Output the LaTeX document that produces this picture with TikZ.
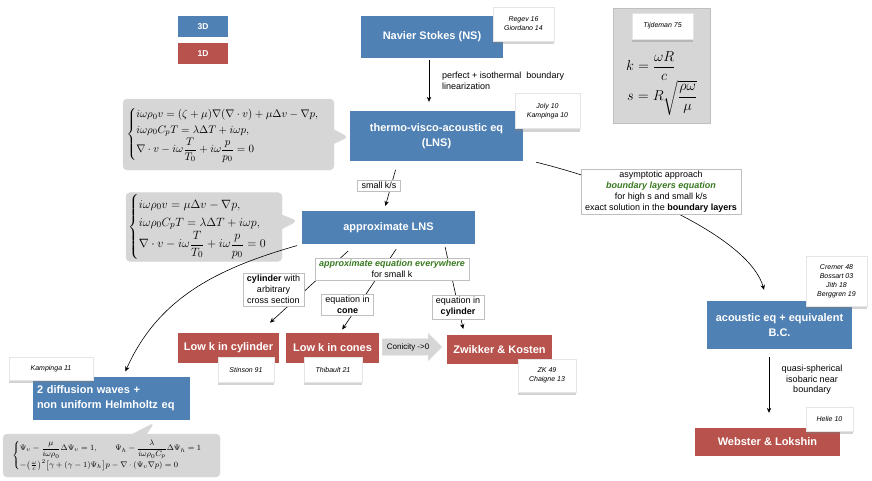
\documentclass[tikz,border=0pt]{standalone}
\usepackage{amsmath}
\usepackage{fontspec}
\setmainfont{Liberation Sans}
\usetikzlibrary{arrows.meta,shapes.callouts,shapes.arrows,shadows}

\definecolor{blue3d}{RGB}{79,129,180}
\definecolor{red1d}{RGB}{184,82,76}
\definecolor{eqgray}{RGB}{214,214,214}
\definecolor{hlgreen}{RGB}{56,122,32}

\tikzset{
  box3d/.style={fill=blue3d, text=white, align=center, inner sep=0pt, font=\fontsize{11}{15}\selectfont\bfseries},
  box1d/.style={box3d, fill=red1d},
  note/.style={fill=white, draw=black!10, align=center, inner sep=0pt, font=\fontsize{7}{9}\selectfont\itshape,
    drop shadow={shadow xshift=0pt, shadow yshift=-3pt, opacity=0.35}},
  lbl/.style={fill=white, draw=black!25, align=center, inner xsep=4pt, inner ysep=2pt, font=\fontsize{9}{11}\selectfont},
  eqbox/.style={rectangle callout, fill=eqgray, draw=black!15, rounded corners=4pt, callout pointer width=14pt,
    inner sep=2pt, font=\fontsize{11}{13}\selectfont},
  arr/.style={-{Stealth[length=5pt,width=4.5pt]}, line width=0.6pt}
}
\newcommand{\hlg}[1]{\textcolor{hlgreen}{\bfseries\itshape #1}}

\begin{document}
\begin{tikzpicture}[x=1pt,y=-1pt]
	%%%%% START %%%%%
	\useasboundingbox (0,0) rectangle (872,480);
	
	% legend
	\node[box3d, minimum width=50pt, minimum height=21pt, font=\fontsize{8.5}{9}\selectfont\bfseries] (leg3d) at (203,26.5) {3D};
	\node[box1d, minimum width=50pt, minimum height=21pt, font=\fontsize{8.5}{9}\selectfont\bfseries] (leg1d) at (203,53.5) {1D};
	
	% models
	\node[box3d, minimum width=142pt, minimum height=42pt] (ns) at (432,37) {Navier Stokes (NS)};
	\node[box3d, minimum width=173pt, minimum height=50pt] (lns) at (436.5,136) {thermo-visco-acoustic eq\\(LNS)};
	\node[box3d, minimum width=173pt, minimum height=33pt] (approx) at (388.5,227.5) {approximate LNS};
	\node[box1d, minimum width=101pt, minimum height=30pt] (lowcyl) at (228.5,348) {Low k in cylinder};
	\node[box1d, minimum width=93pt, minimum height=30pt] (lowcone) at (332.5,348) {Low k in cones};
	\node[box1d, minimum width=105pt, minimum height=29pt] (zk) at (499.5,349.5) {Zwikker \& Kosten};
	\node[box3d, text width=149pt, inner xsep=4pt, minimum height=43pt, align=left] (diff) at (111.5,398.5) {2 diffusion waves +\\non uniform Helmholtz eq};
	\node[box3d, minimum width=145pt, minimum height=48pt] (acou) at (779.5,325) {acoustic eq + equivalent\\B.C.};
	\node[box1d, minimum width=145pt, minimum height=28pt] (webster) at (767.5,442) {Webster \& Lokshin};
	
	% equations
	\node[eqbox, minimum width=211pt, minimum height=71pt, callout absolute pointer={(348,137)}] (eqlns) at (228.5,134.5)
	{$\begin{cases}
		i\omega\rho_0 v=(\zeta+\mu)\nabla(\nabla\cdot v)+\mu\Delta v-\nabla p,\\
		i\omega\rho_0 C_pT=\lambda\Delta T+i\omega p,\\
		\nabla\cdot v-i\omega\dfrac{T}{T_0}+i\omega\dfrac{p}{p_0}=0
	\end{cases}$};
	\node[eqbox, minimum width=156pt, minimum height=68pt, font=\fontsize{13}{15}\selectfont, callout absolute pointer={(297,221)}] (eqapprox) at (204,227)
	{$\begin{cases}
		i\omega\rho_0 v=\mu\Delta v-\nabla p,\\
		i\omega\rho_0 C_pT=\lambda\Delta T+i\omega p,\\
		\nabla\cdot v-i\omega\dfrac{T}{T_0}+i\omega\dfrac{p}{p_0}=0
	\end{cases}$};
	\node[eqbox, minimum width=217pt, minimum height=43pt, font=\fontsize{8.5}{10}\selectfont, callout absolute pointer={(154,423)}] (eqdiff) at (111.5,455.5)
	{$\begin{cases}
		\Psi_v-\dfrac{\mu}{i\omega\rho_0}\Delta\Psi_v=1,\qquad\Psi_h-\dfrac{\lambda}{i\omega\rho_0C_p}\Delta\Psi_h=1\\
		-\big(\tfrac{\omega}{c}\big)^2\big[\gamma+(\gamma-1)\Psi_h\big]p-\nabla\cdot(\Psi_v\nabla p)=0
	\end{cases}$};
	
	% Tijdeman frame
	\node[fill=eqgray, draw=black!25, minimum width=97pt, minimum height=115pt, inner sep=0pt] (tij) at (661.5,65.5) {};
	\node[anchor=west, inner sep=0pt, font=\fontsize{14.5}{16}\selectfont] (kdef) at (626,66) {$k=\dfrac{\omega R}{c}$};
	\node[anchor=west, inner sep=0pt, font=\fontsize{14.5}{16}\selectfont] (sdef) at (627,98) {$s=R\sqrt{\dfrac{\rho\omega}{\mu}}$};
	
	% connectors
	\draw[arr, shorten <=2pt, shorten >=9pt] ([xshift=-3pt]ns.south) -- ([xshift=-7.5pt]lns.north);
	\draw[arr, shorten <=9pt, shorten >=5pt] ([xshift=-38.5pt]lns.south) -- ([xshift=-4.5pt]approx.north);
	\draw[arr] ([shift={(13,1)}]lns.south east) .. controls (640,188) and (750,240) .. ([xshift=-15.5pt,yshift=11pt]acou.north);
	\draw[arr, shorten <=10pt, shorten >=15pt] ([xshift=-33pt]approx.south) -- ([xshift=30.5pt]lowcyl.north);
	\draw[arr, shorten <=6pt, shorten >=4pt] ([xshift=11pt]approx.south) -- ([xshift=7.5pt]lowcone.north);
	\draw[arr, shorten <=3pt, shorten >=6pt] ([xshift=56pt]approx.south) -- ([xshift=-35pt]zk.north);
	\draw[arr, shorten <=5pt, shorten >=6pt] (approx.south west) to[out=196,in=66] ([xshift=11.5pt]diff.north);
	\draw[arr, shorten <=8pt, shorten >=15pt] ([xshift=-10.5pt]acou.south) -- ([xshift=-10.5pt]acou.south |- webster.north);
	\node[single arrow, fill=eqgray, draw=black!10, single arrow head extend=5pt, minimum width=28pt,
		minimum height=60pt, inner xsep=2pt, font=\fontsize{8}{9}\selectfont, anchor=west] (conic) at (382,347) {Conicity ->0};
	
	% labels
	\node[anchor=west, align=left, inner sep=0pt, font=\fontsize{9}{11}\selectfont] (nslbl) at (442,81) {perfect + isothermal\ \ boundary\\linearization};
	\node[lbl] (kslbl) at (379,185.5) {small k/s};
	\node[lbl] (asym) at (661,191.5) {asymptotic approach\\\hlg{boundary layers equation}\\for high s and small k/s\\exact solution in the {\bfseries boundary layers}};
	\node[lbl] (cyllbl) at (273.5,289.5) {{\bfseries cylinder} with\\arbitrary\\cross section};
	\node[lbl] (everylbl) at (392,269) {\hlg{approximate equation everywhere}\\for small k};
	\node[lbl] (conelbl) at (347.5,304.5) {equation in\\{\bfseries cone}};
	\node[lbl] (zklbl) at (458,307) {equation in\\{\bfseries cylinder}};
	\node[align=center, inner sep=0pt, font=\fontsize{9}{10.5}\selectfont] (quasilbl) at (812,380) {quasi-spherical\\isobaric near\\boundary};
	
	% references
	\node[note, minimum width=61pt, minimum height=34pt] (regev) at (523.5,24) {Regev 16\\Giordano 14};
	\node[note, minimum width=65pt, minimum height=35pt] (joly) at (547.5,111) {Joly 10\\Kampinga 10};
	\node[note, minimum width=61pt, minimum height=26pt] (tijref) at (662.5,26) {Tijdeman 75};
	\node[note, minimum width=56pt, minimum height=25pt] (stinson) at (246,369.5) {Stinson 91};
	\node[note, minimum width=58pt, minimum height=25pt] (thibault) at (333,369.5) {Thibault 21};
	\node[note, minimum width=58pt, minimum height=33pt] (zkref) at (547,375.5) {ZK 49\\Chaigne 13};
	\node[note, minimum width=84pt, minimum height=23pt] (kampinga) at (51,368.5) {Kampinga 11};
	\node[note, minimum width=61pt, minimum height=50pt] (cremer) at (836.5,281) {Cremer 48\\Bossart 03\\Jith 18\\Berggren 19};
	\node[note, minimum width=47pt, minimum height=24pt] (helie) at (829.5,419) {Helie 10};
	
	%%%%% END %%%%%
\end{tikzpicture}
\end{document}
